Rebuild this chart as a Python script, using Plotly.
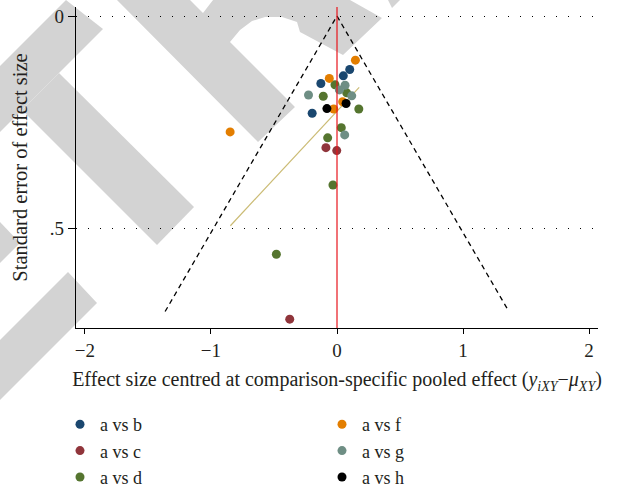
import plotly.graph_objects as go

# ---------------- data ----------------
series_names = ["a vs b", "a vs c", "a vs d", "a vs f", "a vs g", "a vs h"]
series_colors = ["#1a476f", "#90353b", "#55752f", "#e37e00", "#6e8e84", "#000000"]

ab_x = [0.101, 0.050, -0.128, -0.197]
ab_se = [0.126, 0.141, 0.159, 0.229]
ac_x = [-0.088, -0.002, -0.375]
ac_se = [0.310, 0.317, 0.714]
ad_x = [-0.016, -0.109, 0.077, 0.173, 0.034, -0.074, -0.032, -0.481]
ad_se = [0.162, 0.189, 0.181, 0.219, 0.263, 0.287, 0.398, 0.561]
af_x = [0.146, -0.061, 0.045, -0.026, -0.848]
af_se = [0.104, 0.147, 0.202, 0.219, 0.273]
ag_x = [0.064, 0.019, -0.226, 0.117, 0.061]
ag_se = [0.163, 0.174, 0.186, 0.188, 0.280]
ah_x = [0.072, -0.080]
ah_se = [0.206, 0.218]

series_x = [ab_x, ac_x, ad_x, af_x, ag_x, ah_x]
series_se = [ab_se, ac_se, ad_se, af_se, ag_se, ah_se]

# pseudo 95% confidence limits of the funnel
funnel_left_x = [-1.364, 0.0]
funnel_right_x = [0.0, 1.364]
funnel_left_se = [0.696, 0.0]
funnel_right_se = [0.0, 0.696]

# fitted (small-study) regression line
fit_x = [-0.846, 0.176]
fit_se = [0.494, 0.168]

x_ticks = [-2, -1, 0, 1, 2]
x_ticktext = ["\u22122", "\u22121", "0", "1", "2"]
y_ticks = [0, 0.5]
y_ticktext = ["0", ".5"]

# ---------------- layout constants ----------------
W, H = 619, 489
L, R, T, B = 76, 21, 7, 161
PW, PH = W - L - R, H - T - B
FONT = "Liberation Serif"
FS = 19
TXT = "#231f20"


def pp(x, y):
    return (x - L) / PW, 1 - (y - T) / PH


def path(pts):
    s = ""
    for i, (x, y) in enumerate(pts):
        px, py = pp(x, y)
        s += ("M" if i == 0 else "L") + f"{px:.4f},{py:.4f} "
    return s + "Z"


watermark = [
    [(66, 0), (103, 29), (0, 132), (0, 66)],
    [(59, 73), (194, 207), (157, 245), (22, 110)],
    [(0, 222), (20, 243), (0, 263)],
    [(68, 272), (97, 303), (0, 400), (0, 340)],
    [(117, 0), (190, 0), (203, 13), (213, 0), (350, 0), (382, 18), (343, 55),
     (300, 32), (297, 22), (282, 17), (265, 17), (252, 21), (240, 30),
     (230, 42), (295, 107), (258, 142)],
    [(388, 0), (400, 0), (392, 8)],
]

fig = go.Figure()

fig.add_trace(go.Scatter(x=funnel_left_x, y=funnel_left_se, mode="lines",
                         line=dict(color="black", width=1.3, dash="5px,4px"),
                         showlegend=False, hoverinfo="skip"))
fig.add_trace(go.Scatter(x=funnel_right_x, y=funnel_right_se, mode="lines",
                         line=dict(color="black", width=1.3, dash="5px,4px"),
                         showlegend=False, hoverinfo="skip"))
fig.add_trace(go.Scatter(x=fit_x, y=fit_se, mode="lines",
                         line=dict(color="#cbbb74", width=1.2),
                         showlegend=False, hoverinfo="skip"))

for i, (name, col, xs, ses) in enumerate(zip(series_names, series_colors, series_x, series_se)):
    fig.add_trace(go.Scatter(
        x=xs, y=ses, mode="markers", name=name,
        marker=dict(color=col, size=9, line=dict(width=0)),
        legend="legend" if i < 3 else "legend2",
        legendgroup=name,
    ))

shapes = [dict(type="path", path=path(p), xref="paper", yref="paper",
               fillcolor="#d3d3d3", line=dict(width=0), layer="below")
          for p in watermark]
shapes.append(dict(type="line", xref="x", yref="paper", x0=0, x1=0, y0=0, y1=1,
                   line=dict(color="#e8141c", width=1.2), layer="above"))

legend_common = dict(
    font=dict(family=FONT, size=18, color=TXT),
    bgcolor="rgba(0,0,0,0)", borderwidth=0,
    orientation="v", yanchor="top", xanchor="left",
    tracegroupgap=0, itemwidth=30,
)

fig.update_layout(
    width=W, height=H,
    margin=dict(l=L, r=R, t=T, b=B, autoexpand=False),
    paper_bgcolor="white",
    plot_bgcolor="rgba(0,0,0,0)",
    font=dict(family=FONT, size=FS, color=TXT),
    shapes=shapes,
    xaxis=dict(
        range=[-2.071, 2.071], tickmode="array", tickvals=x_ticks, ticktext=x_ticktext,
        showgrid=False, zeroline=False,
        showline=True, linecolor="black", linewidth=1.3,
        ticks="outside", ticklen=5, tickwidth=1.2, tickcolor="black",
        tickfont=dict(family=FONT, size=FS, color=TXT),
        automargin=False,
        title=dict(text="Effect size centred at comparison-specific pooled effect "
                        "(<i>y</i><sub><i>iXY</i></sub>\u2212<i>\u03bc</i><sub><i>XY</i></sub>)",
                   font=dict(family=FONT, size=20, color=TXT), standoff=12),
    ),
    yaxis=dict(
        range=[0.7348, -0.0212], tickmode="array", tickvals=y_ticks, ticktext=y_ticktext,
        showgrid=True, gridcolor="black", gridwidth=1, griddash="1px,11px",
        zeroline=False,
        showline=True, linecolor="black", linewidth=1.3,
        ticks="outside", ticklen=7, tickwidth=1.2, tickcolor="black",
        tickfont=dict(family=FONT, size=FS, color=TXT),
        automargin=False,
        title=dict(text="Standard error of effect size",
                   font=dict(family=FONT, size=20.5, color=TXT), standoff=16),
    ),
    legend=dict(x=pp(60, 0)[0], y=pp(0, 406)[1], **legend_common),
    legend2=dict(x=pp(322, 0)[0], y=pp(0, 406)[1], **legend_common),
)

fig.write_html("out.html")
